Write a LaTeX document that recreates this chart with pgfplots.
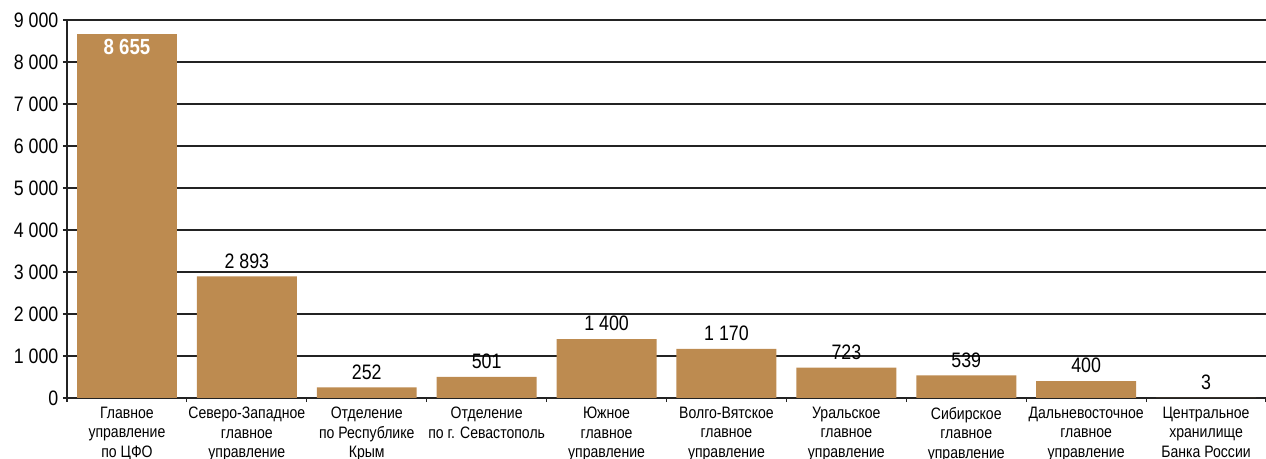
\documentclass[border=0pt]{standalone}
\usepackage{fontspec}
\setmainfont{Liberation Sans}[FakeStretch=0.85]
\usepackage{pgfplots}
\pgfplotsset{compat=1.18}
\definecolor{barc}{RGB}{189,139,80}
\definecolor{gridc}{RGB}{35,35,35}
\begin{document}
\begin{tikzpicture}
\begin{axis}[
  scale only axis, width=599.5bp, height=189bp,
  xmin=-0.5, xmax=9.5, ymin=0, ymax=9000,
  ytick={0,1000,...,9000},
  scaled y ticks=false,
  /pgf/number format/assume math mode=true,
  /pgf/number format/1000 sep={\ },
  ymajorgrids, grid style={gridc, line width=0.6bp},
  axis x line*=bottom, axis y line*=left,
  axis line style={gridc, line width=0.7bp},
  tick style={gridc, line width=0.6bp},
  tick align=outside, major tick length=2bp,
  xtick={-0.5,0.5,...,9.5},
  xticklabels={{Главное\\управление\\по ЦФО},
               {Северо-Западное\\главное\\управление},
               {Отделение\\по Республике\\Крым},
               {Отделение\\по г. Севастополь},
               {Южное\\главное\\управление},
               {Волго-Вятское\\главное\\управление},
               {Уральское\\главное\\управление},
               {Сибирское\\главное\\управление},
               {Дальневосточное\\главное\\управление},
               {Центральное\\хранилище\\Банка России},{}},
  xticklabel style={align=center, xshift=29.975bp, anchor=north,
     font=\fontsize{8.3}{9.8}\selectfont, yshift=1bp},
  yticklabel style={font=\fontsize{10.5}{12}\selectfont, xshift=1.2bp},
]
\addplot[ybar, bar width=0.834, bar shift=0pt, fill=barc, draw=none,
  nodes near coords,
  every node near coord/.append style={font=\fontsize{10.5}{12}\selectfont, text=black, yshift=0.5bp}]
  coordinates {(1,2893) (2,252) (3,501) (4,1400) (5,1170) (6,723) (7,539) (8,400) (9,3)};
\addplot[ybar, bar width=0.834, bar shift=0pt, fill=barc, draw=none,
  nodes near coords,
  every node near coord/.append style={font=\fontsize{11}{12}\selectfont\bfseries, text=white, yshift=-13.5bp}]
  coordinates {(0,8655)};
\end{axis}
\pgfresetboundingbox
\path[use as bounding box] ([xshift=-33.5bp,yshift=-30.5bp]current axis.south west) rectangle ([yshift=10bp]current axis.north east);
\end{tikzpicture}
\end{document}
